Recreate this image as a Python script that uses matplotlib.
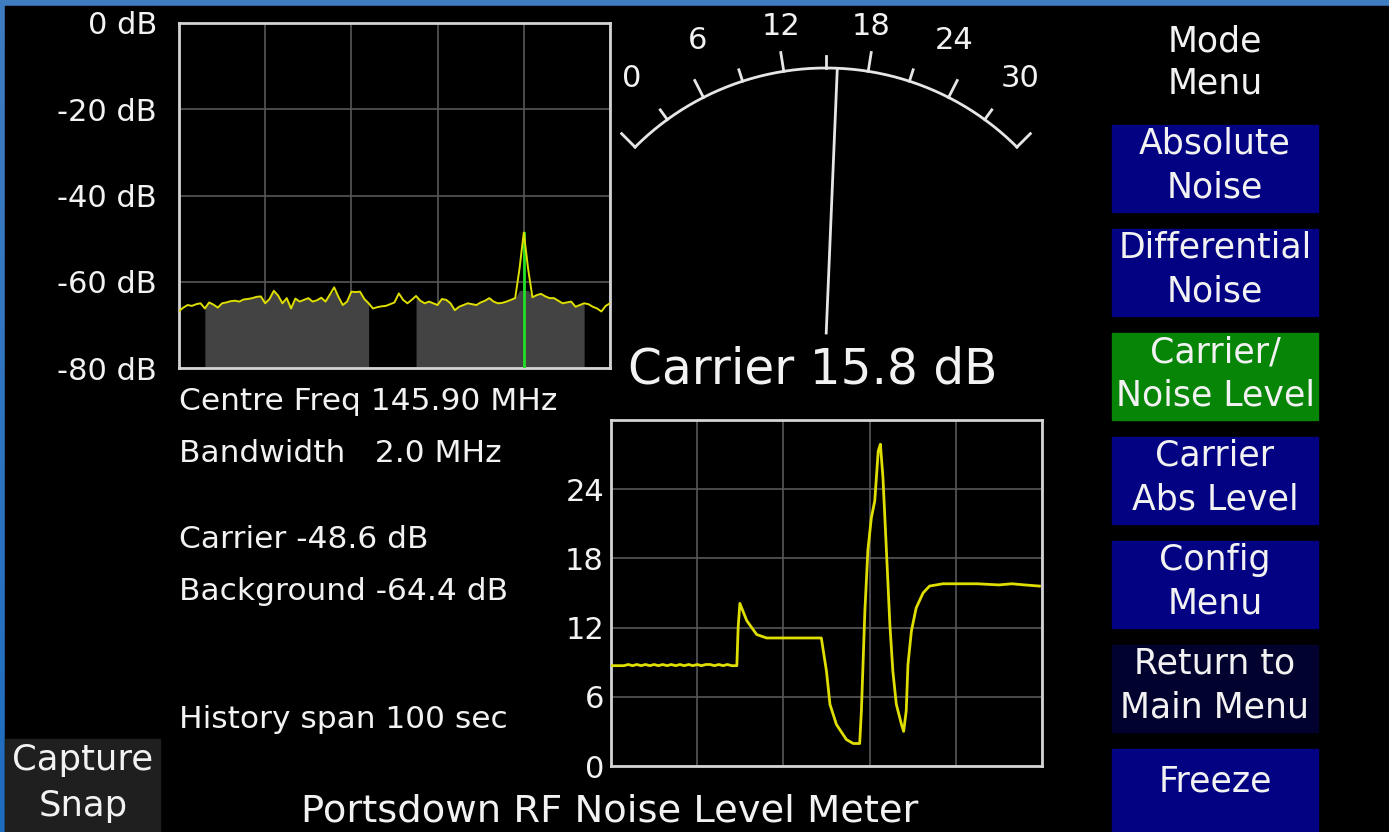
import numpy as np
import matplotlib
matplotlib.use("Agg")
import matplotlib.pyplot as plt
from matplotlib.patches import Rectangle

W, H = 1389, 832

# ---- spectrum (dB vs. % of span) ----
spec_x = list(range(0, 101))
spec_db = [
    -66.8, -66.0, -65.4, -65.6, -65.2, -65.0, -66.2, -64.8, -65.3, -66.0,
    -65.0, -64.8, -64.5, -64.4, -64.6, -64.1, -64.0, -63.8, -63.5, -63.4,
    -65.0, -64.0, -62.1, -63.2, -65.0, -63.8, -66.2, -63.9, -64.6, -64.2,
    -63.8, -64.6, -64.3, -63.7, -64.6, -63.0, -61.3, -63.5, -65.4, -64.6,
    -62.3, -62.4, -62.3, -64.0, -65.0, -66.2, -65.9, -65.7, -65.6, -65.2,
    -64.8, -62.7, -64.2, -65.0, -64.2, -63.3, -64.4, -65.0, -64.6, -65.0,
    -65.4, -64.0, -64.2, -65.0, -66.6, -65.8, -65.4, -65.0, -65.2, -65.4,
    -64.8, -64.4, -63.8, -64.6, -65.0, -64.9, -64.6, -64.2, -63.8, -57.0,
    -48.6, -57.0, -63.6, -63.1, -62.8, -63.4, -63.8, -63.8, -64.4, -65.0,
    -64.8, -64.6, -65.8, -65.4, -65.0, -65.2, -65.8, -66.2, -66.9, -65.6,
    -65.0,
]
spec_ticks = [0, -20, -40, -60, -80]
noise_bands = [(5.3, 44.5), (55.0, 94.4)]
carrier_x = 80

# ---- carrier/noise history (dB vs. seconds) ----
hist_t = [0, 1, 2, 3, 4, 5, 6, 7, 8, 9, 10, 11, 12, 13, 14, 15, 16, 17, 18,
          19, 20, 21, 22, 23, 24, 25, 26, 27, 28, 29.2, 29.5, 29.9, 31.5,
          33.8, 36.1, 48.8, 50.0, 50.8, 52.3, 54.6, 56.2, 57.7, 58.1, 58.9,
          59.6, 60.4, 61.2, 62.0, 62.5, 63.1, 63.9, 64.7, 65.4, 66.2, 67.4,
          67.9, 68.5, 68.9, 69.7, 70.8, 72.4, 73.9, 77.0, 80.9, 85.0, 90.0,
          93.0, 96.0, 99.4]
hist_db = [8.7, 8.7, 8.7, 8.7, 8.8, 8.7, 8.8, 8.7, 8.8, 8.7, 8.8, 8.7, 8.8,
           8.7, 8.8, 8.7, 8.8, 8.7, 8.8, 8.7, 8.8, 8.7, 8.8, 8.8, 8.7, 8.8,
           8.7, 8.8, 8.7, 8.7, 12.0, 14.1, 12.6, 11.4, 11.1, 11.1, 8.2, 5.35,
           3.6, 2.3, 1.95, 1.95, 4.8, 13.4, 18.7, 21.5, 23.0, 27.3, 27.9, 25.0,
           18.7, 12.3, 8.2, 5.35, 3.6, 3.0, 4.8, 8.8, 11.7, 13.7, 15.0, 15.6,
           15.8, 15.8, 15.8, 15.7, 15.8, 15.7, 15.6]
hist_ticks = [0, 6, 12, 18, 24]

# ---- meter ----
meter_min, meter_max = 0, 30
meter_minor, meter_major = 3, 6
reading = 15.8

info_lines = [("Centre Freq 145.90 MHz", 402), ("Bandwidth   2.0 MHz", 453),
              ("Carrier -48.6 dB", 539), ("Background -64.4 dB", 591),
              ("History span 100 sec", 720)]

buttons = [("Absolute\nNoise", "#020282"), ("Differential\nNoise", "#020282"),
           ("Carrier/\nNoise Level", "#078507"), ("Carrier\nAbs Level", "#020282"),
           ("Config\nMenu", "#020282"), ("Return to\nMain Menu", "#02022e"),
           ("Freeze", "#020282")]

WHITE = "#f2f2f2"
YELLOW = "#dede00"

fig = plt.figure(figsize=(W / 100, H / 100), dpi=100, facecolor="#2463ad")
bg = fig.add_axes([0, 0, 1, 1])
bg.axis("off")

# blue desktop edge with a soft gradient, black screen on top
grad = np.linspace(0, 1, 200).reshape(-1, 1)
bg.imshow(grad, extent=(0, W, H, 0), aspect="auto",
          cmap=matplotlib.colors.LinearSegmentedColormap.from_list(
              "edge", ["#3f7cc0", "#1e6cc0"]), zorder=0)
bg.add_patch(Rectangle((5, 6), W + 20, H + 20, color="black", zorder=1,
                       clip_on=False))
bg.set_xlim(0, W)
bg.set_ylim(H, 0)


def box(x0, y0, x1, y1):
    return [x0 / W, 1 - y1 / H, (x1 - x0) / W, (y1 - y0) / H]


def style_axes(ax):
    ax.set_facecolor("black")
    for sp in ax.spines.values():
        sp.set_color("#d4d4d4")
        sp.set_linewidth(2)
    ax.grid(True, color="#575757", linewidth=1.2)
    ax.set_axisbelow(True)
    ax.tick_params(length=0, labelbottom=False, labelcolor=WHITE, labelsize=22)


# spectrum plot
ax1 = fig.add_axes(box(179, 23, 610, 368))
style_axes(ax1)
sx = np.array(spec_x, dtype=float)
sy = np.array(spec_db)
for lo, hi in noise_bands:
    m = (sx >= lo) & (sx <= hi)
    ax1.fill_between(sx[m], -80, np.minimum(sy[m], -62.0), color="#434343",
                     linewidth=0, zorder=2)
ax1.plot([carrier_x, carrier_x], [-80, max(spec_db)], color="#22e022", lw=2, zorder=3)
ax1.plot(sx, sy, color=YELLOW, lw=1.4, zorder=4)
ax1.set_xlim(0, 100)
ax1.set_ylim(-80, 0)
ax1.set_xticks([0, 20, 40, 60, 80, 100])
ax1.set_yticks(spec_ticks)
ax1.set_yticklabels([f"{v} dB" for v in spec_ticks])
ax1.tick_params(axis="y", pad=16)

# history plot
ax2 = fig.add_axes(box(611, 420, 1042, 766))
style_axes(ax2)
ax2.plot(hist_t, hist_db, color=YELLOW, lw=2, zorder=4)
ax2.set_xlim(0, 100)
ax2.set_ylim(0, 30)
ax2.set_xticks([0, 20, 40, 60, 80, 100])
ax2.set_yticks(hist_ticks + [30])
ax2.set_yticklabels([str(v) for v in hist_ticks] + [""])
ax2.tick_params(axis="y", pad=5)

# analogue meter
cx, cy, R, half = 826, 338, 270, 45.0


def ang(v):
    return np.radians(-half + (v - meter_min) / (meter_max - meter_min) * 2 * half)


a = np.linspace(ang(meter_min), ang(meter_max), 200)
bg.plot(cx + R * np.sin(a), cy - R * np.cos(a), color="#e6e6e6", lw=2, zorder=5)
for v in range(meter_min, meter_max + 1, meter_minor):
    t = ang(v)
    length = 19 if v % meter_major == 0 else 12
    bg.plot([cx + R * np.sin(t), cx + (R + length) * np.sin(t)],
            [cy - R * np.cos(t), cy - (R + length) * np.cos(t)],
            color="#e6e6e6", lw=2, zorder=5)
    if v % meter_major == 0:
        deg = abs(np.degrees(t))
        tl = t * (0.93 - 0.0025 * deg)
        rl = min(310.5 + 0.5 * deg, 324)
        bg.text(cx + rl * np.sin(tl), cy - rl * np.cos(tl), str(v), color=WHITE,
                fontsize=22, ha="center", va="center", zorder=6)
tn = ang(reading)
bg.plot([cx + 5 * np.sin(tn), cx + (R - 2) * np.sin(tn)],
        [cy - 5 * np.cos(tn), cy - (R - 2) * np.cos(tn)],
        color="#e6e6e6", lw=2, zorder=5)
bg.text(813, 370, f"Carrier {reading} dB", color=WHITE, fontsize=35,
        ha="center", va="center", zorder=6)

# readout text
for txt, y in info_lines:
    bg.text(179, y, txt, color=WHITE, fontsize=22.5, ha="left", va="center", zorder=6)

# menu
bg.text(1215, 41, "Mode", color=WHITE, fontsize=25, ha="center", va="center", zorder=6)
bg.text(1215, 84, "Menu", color=WHITE, fontsize=25, ha="center", va="center", zorder=6)
for i, (label, col) in enumerate(buttons):
    top = 125 + i * 104
    lines = label.split("\n")
    if len(lines) == 1:
        bottom, first = H, top + 32
    else:
        bottom, first = top + 87, top + 19
    bg.add_patch(Rectangle((1112, top), 206, bottom - top, color=col, zorder=2))
    for j, line in enumerate(lines):
        bg.text(1215, first + j * 43, line, color=WHITE, fontsize=25,
                ha="center", va="center", zorder=6)

# capture snap button
bg.add_patch(Rectangle((5, 739), 155, H - 739, color="#1f1f1f", zorder=2))
bg.text(83, 760, "Capture", color=WHITE, fontsize=25.5, ha="center", va="center", zorder=6)
bg.text(83, 806, "Snap", color=WHITE, fontsize=25.5, ha="center", va="center", zorder=6)

bg.text(610, 811, "Portsdown RF Noise Level Meter", color=WHITE, fontsize=27.7,
        ha="center", va="center", zorder=6)

fig.savefig("out.png", dpi=100, facecolor=fig.get_facecolor())
